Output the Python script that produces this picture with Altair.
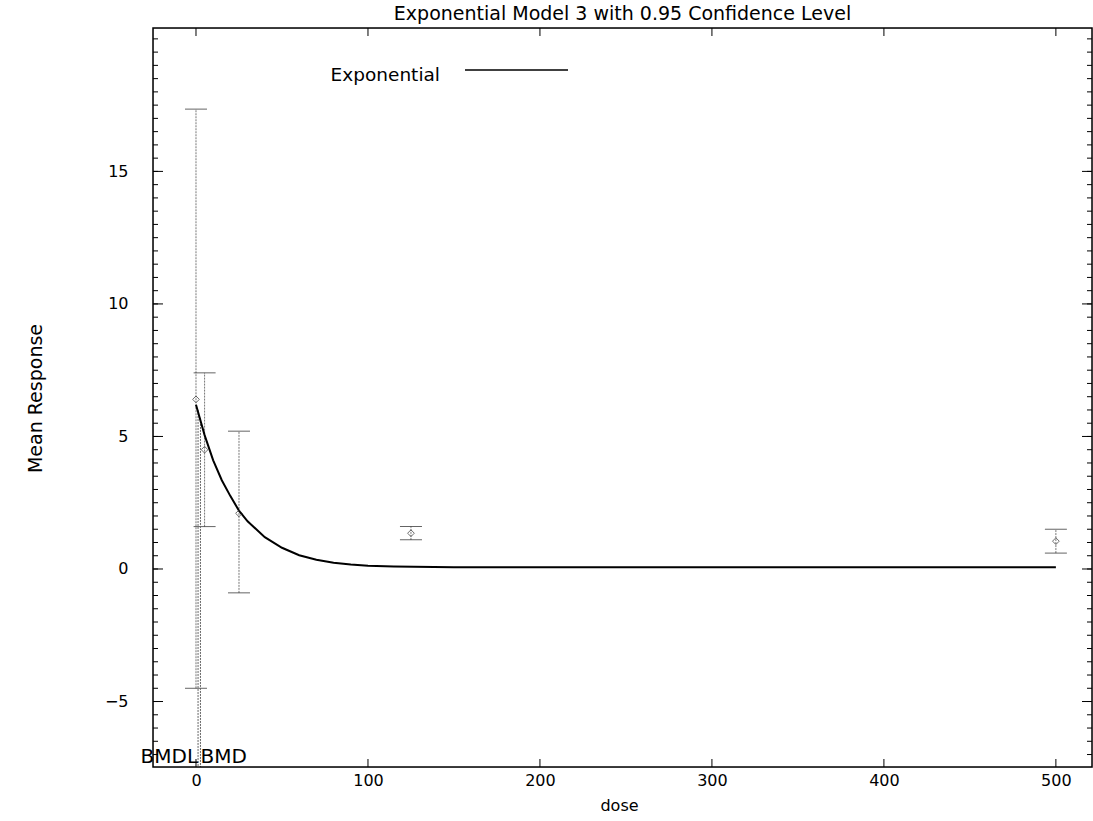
import altair as alt
import pandas as pd

# ---- data ----
doses = [0, 5, 25, 125, 500]
means = [6.4, 4.5, 2.1, 1.35, 1.05]
lower = [-4.5, 1.6, -0.9, 1.1, 0.6]
upper = [17.35, 7.4, 5.2, 1.6, 1.5]

curve_dose = [0, 5, 10, 15, 20, 25, 30, 40, 50, 60, 70, 80, 90, 100, 115, 150, 250, 350, 500]
curve_resp = [6.2, 5.05, 4.1, 3.35, 2.75, 2.2, 1.8, 1.2, 0.8, 0.52, 0.35, 0.24, 0.17, 0.12, 0.09, 0.07, 0.07, 0.07, 0.07]

bmd_names = ["BMDL", "BMD"]
bmd_dose = [1.2, 2.6]
bmd_resp = [6.0, 5.7]
bmd_align = ["right", "left"]

x_major = [0, 100, 200, 300, 400, 500]
y_major = [-5, 0, 5, 10, 15]
y_minor = [v / 2 for v in range(-14, 41)]

legend_label = ["Exponential"]
chart_title = "Exponential Model 3 with 0.95 Confidence Level"

W, H = 939, 739
FONT = "DejaVu Sans"

pts = pd.DataFrame({"dose": doses, "mean": means, "lower": lower, "upper": upper})
curve = pd.DataFrame({"dose": curve_dose, "resp": curve_resp})
bmd = pd.DataFrame({"name": bmd_names, "dose": bmd_dose, "resp": bmd_resp, "align": bmd_align})
xt = pd.DataFrame({"v": x_major})
ymaj = pd.DataFrame({"v": y_major})
ymin = pd.DataFrame({"v": y_minor})
one = pd.DataFrame({"k": [0]})

xscale = alt.Scale(domain=[-25, 521], nice=False, zero=False)
yscale = alt.Scale(domain=[-7.47, 20.41], nice=False, zero=False)

xaxis = alt.Axis(values=x_major, ticks=False, tickSize=0, domain=False, grid=False,
                 labelPadding=5, labelFontSize=16, labelFont=FONT, labelColor="black",
                 title="dose", titleFont=FONT, titleFontSize=16, titleFontWeight="normal",
                 titleColor="black", titleX=466, titleY=38, titleBaseline="middle",
                 titleAlign="center")
yaxis = alt.Axis(values=y_major, ticks=False, tickSize=0, domain=False, grid=False,
                 labelPadding=25, labelFontSize=16, labelFont=FONT, labelColor="black",
                 title="Mean Response", titleFont=FONT, titleFontSize=19,
                 titleFontWeight="normal", titleColor="black", titleX=-118, titleY=370,
                 titleAngle=-90, titleBaseline="middle", titleAlign="center")


def X(f):
    return alt.X(f, type="quantitative", scale=xscale, axis=xaxis, title="dose")


def Y(f):
    return alt.Y(f, type="quantitative", scale=yscale, axis=yaxis, title="Mean Response")


errbars = alt.Chart(pts).mark_rule(color="#777777", strokeWidth=1, strokeDash=[2, 1]).encode(
    x=X("dose"), y=Y("lower"), y2="upper")
cap_up = alt.Chart(pts).mark_tick(orient="horizontal", size=22, thickness=1, color="#222222").encode(
    x=X("dose"), y=Y("upper"))
cap_lo = alt.Chart(pts).mark_tick(orient="horizontal", size=22, thickness=1, color="#222222").encode(
    x=X("dose"), y=Y("lower"))
marks = alt.Chart(pts).mark_point(shape="diamond", size=45, filled=False, color="#333333",
                                  strokeWidth=1).encode(x=X("dose"), y=Y("mean"))
line = alt.Chart(curve).mark_line(color="black", strokeWidth=2).encode(
    x=X("dose"), y=Y("resp"))
bmd_lines = alt.Chart(bmd).mark_rule(color="#666666", strokeWidth=1, strokeDash=[2, 1]).encode(
    x=X("dose"), y=Y("resp"), y2=alt.value(H))
bmdl_text = alt.Chart(bmd[bmd["align"] == "right"]).mark_text(
    align="right", baseline="middle", fontSize=20, font=FONT, color="black").encode(
    x=X("dose"), y=alt.value(H - 10), text="name:N")
bmd_text = alt.Chart(bmd[bmd["align"] == "left"]).mark_text(
    align="left", baseline="middle", fontSize=20, font=FONT, color="black").encode(
    x=X("dose"), y=alt.value(H - 10), text="name:N")

# inward ticks (gnuplot style)
yl_maj = alt.Chart(ymaj).mark_rule(color="black", strokeWidth=1).encode(
    y=Y("v"), x=alt.value(0), x2=alt.value(10))
yr_maj = alt.Chart(ymaj).mark_rule(color="black", strokeWidth=1).encode(
    y=Y("v"), x=alt.value(W - 10), x2=alt.value(W))
yl_min = alt.Chart(ymin).mark_rule(color="black", strokeWidth=1).encode(
    y=Y("v"), x=alt.value(0), x2=alt.value(5))
yr_min = alt.Chart(ymin).mark_rule(color="black", strokeWidth=1).encode(
    y=Y("v"), x=alt.value(W - 5), x2=alt.value(W))
xb = alt.Chart(xt).mark_rule(color="black", strokeWidth=1).encode(
    x=X("v"), y=alt.value(H - 8), y2=alt.value(H))
xtp = alt.Chart(xt).mark_rule(color="black", strokeWidth=1).encode(
    x=X("v"), y=alt.value(0), y2=alt.value(8))

frame = alt.Chart(one).mark_rect(fill=None, stroke="black", strokeWidth=1.5).encode(
    x=alt.value(0), x2=alt.value(W), y=alt.value(0), y2=alt.value(H))

leg_df = pd.DataFrame({"t": legend_label})
leg_text = alt.Chart(leg_df).mark_text(align="right", baseline="middle", fontSize=18.5,
                                       font=FONT, color="black").encode(
    text="t:N", x=alt.value(287), y=alt.value(47))
leg_line = alt.Chart(leg_df).mark_rule(color="black", strokeWidth=1.5).encode(
    x=alt.value(312), x2=alt.value(415), y=alt.value(42))

chart = alt.layer(
    errbars, cap_up, cap_lo, bmd_lines, line, marks, bmdl_text, bmd_text,
    yl_maj, yr_maj, yl_min, yr_min, xb, xtp, frame, leg_text, leg_line
).properties(
    width=W, height=H,
    title=alt.TitleParams(chart_title, fontSize=19, font=FONT, fontWeight="normal",
                          color="black", anchor="middle", offset=3),
    autosize=alt.AutoSizeParams(type="none"),
    padding={"left": 153, "top": 28, "right": 1, "bottom": 54},
).configure_view(stroke=None).configure(background="white")

chart.save("out.html", embed_options={"renderer": "svg", "actions": False})
